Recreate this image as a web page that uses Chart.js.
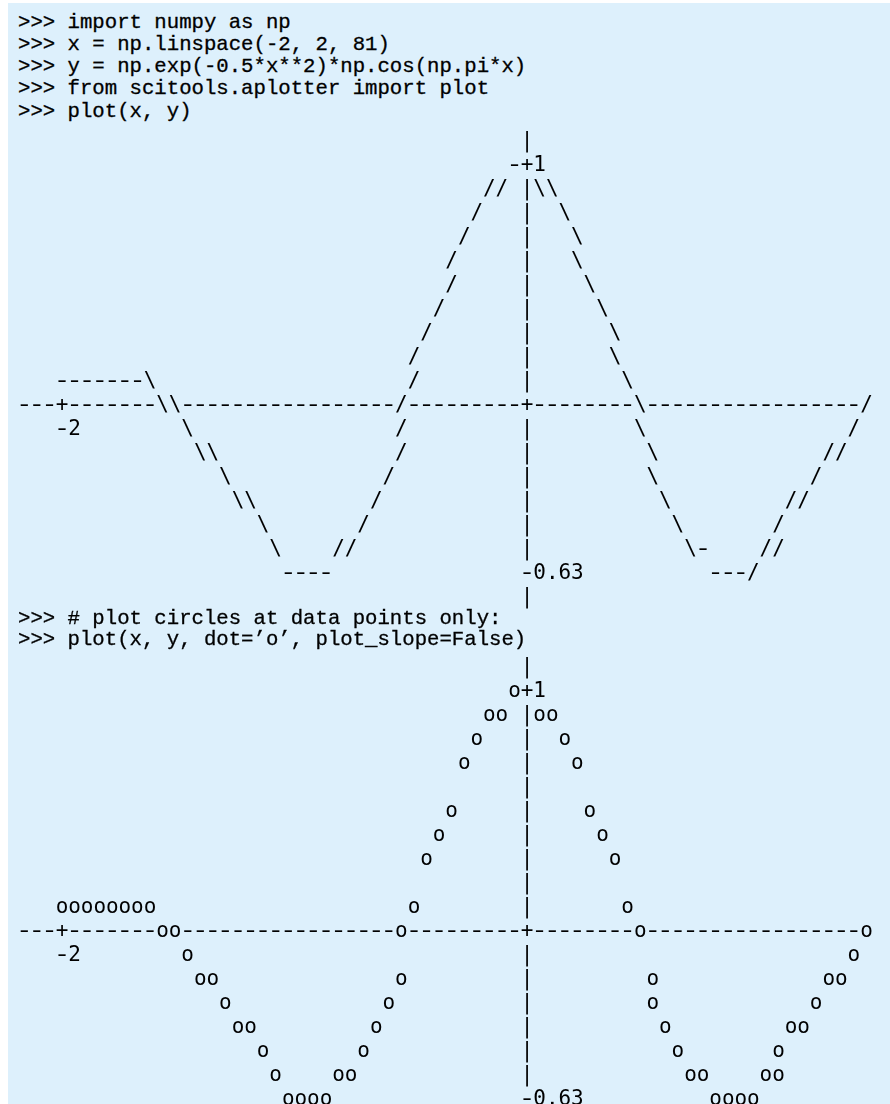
<!DOCTYPE html>
<html>
<head>
<meta charset="utf-8">
<script src="https://cdn.jsdelivr.net/npm/chart.js@4.4.1/dist/chart.umd.min.js"></script>
<style>
html, body { margin: 0; padding: 0; overflow: hidden; background: #fff; }
#page { position: relative; width: 890px; height: 1104px; overflow: hidden; }
#box { position: absolute; left: 8px; top: 3px; right: 0; bottom: 0; background: #ddf0fc; }
.code { position: absolute; left: 18px; margin: 0; font-family: "Liberation Mono", monospace; font-size: 20.67px; line-height: 22.2px; color: #000; white-space: pre; -webkit-text-stroke: 0.3px #000; }
canvas { position: absolute; left: 18px; }
</style>
</head>
<body>
<div id="page">
  <div id="box"></div>
  <pre class="code" style="top:11.7px">&gt;&gt;&gt; import numpy as np
&gt;&gt;&gt; x = np.linspace(-2, 2, 81)
&gt;&gt;&gt; y = np.exp(-0.5*x**2)*np.cos(np.pi*x)
&gt;&gt;&gt; from scitools.aplotter import plot
&gt;&gt;&gt; plot(x, y)</pre>
  <canvas id="slope-plot" width="855" height="480" style="top:129px"></canvas>
  <pre class="code" style="top:608px; line-height:21px">&gt;&gt;&gt; # plot circles at data points only:
&gt;&gt;&gt; plot(x, y, dot=’o’, plot_slope=False)</pre>
  <canvas id="dot-plot" width="855" height="480" style="top:655px"></canvas>
</div>
<script>
// points as they sit in the character grid
const xValues = [-2.00, -1.95, -1.89, -1.84, -1.78, -1.73, -1.68, -1.62, -1.57, -1.51,
  -1.46, -1.41, -1.35, -1.30, -1.24, -1.19, -1.14, -1.08, -1.03, -0.97,
  -0.92, -0.86, -0.81, -0.76, -0.70, -0.65, -0.59, -0.54, -0.54, -0.49,
  -0.43, -0.38, -0.32, -0.27, -0.22, -0.16, -0.11, -0.05, 0.05, 0.11,
  0.16, 0.22, 0.27, 0.32, 0.38, 0.43, 0.49, 0.54, 0.54, 0.59,
  0.65, 0.70, 0.76, 0.81, 0.86, 0.92, 0.97, 1.03, 1.08, 1.08,
  1.14, 1.19, 1.24, 1.30, 1.35, 1.41, 1.46];
const yValues = [0.14, 0.14, 0.14, 0.14, 0.14, 0.14, 0.14, 0.14, 0.04, 0.04,
  -0.05, -0.15, -0.15, -0.25, -0.34, -0.34, -0.44, -0.53, -0.63, -0.63,
  -0.63, -0.63, -0.53, -0.53, -0.44, -0.34, -0.25, -0.15, 0.04, 0.14,
  0.33, 0.42, 0.52, 0.71, 0.81, 0.90, 0.90, 1.00, 0.90, 0.90,
  0.81, 0.71, 0.52, 0.42, 0.33, 0.14, 0.04, -0.15, -0.25, -0.34,
  -0.44, -0.53, -0.53, -0.63, -0.63, -0.63, -0.63, -0.53, -0.53, -0.44,
  -0.34, -0.34, -0.25, -0.15, -0.15, -0.05, 0.04];
// character plot(x, y) picked for each point
const slopeMarks = ['-', '-', '-', '-', '-', '-', '-', '\\', '\\', '\\',
  '\\', '\\', '\\', '\\', '\\', '\\', '\\', '\\', '-', '-',
  '-', '-', '/', '/', '/', '/', '/', '/', '/', '/',
  '/', '/', '/', '/', '/', '/', '/', '-', '\\', '\\',
  '\\', '\\', '\\', '\\', '\\', '\\', '\\', '\\', '\\', '\\',
  '\\', '\\', '-', '-', '-', '-', '/', '/', '/', '/',
  '/', '/', '/', '/', '/', '/', '/'];
const xTickValues = [-2];
const xTickLabels = ['-2'];
const yTickValues = [1, -0.63];
const yTickLabels = ['+1', '-0.63'];

// character grid
const CELL_W = 12.57;
const CELL_H = 24;
const X_PER_COL = 2 / 37;
const X_AT_COL0 = -2 - 3 * X_PER_COL;
const Y_PER_ROW = 1.63 / 17;
const Y_AT_ROW0 = 1 + Y_PER_ROW;
const GLYPH_FONT = '21px "DejaVu Sans Mono"';
const BASELINE_SHIFT = 5.7;
const DASH_STRETCH = 1.35;

const asciiPlugin = {
  id: 'ascii',
  afterDatasetsDraw(chart, args, opts) {
    const area = chart.chartArea;
    const xs = chart.scales.x, ys = chart.scales.y;
    const nCols = Math.floor(area.width / CELL_W);
    const nRows = Math.round(area.height / CELL_H);
    const colOf = px => Math.round((px - area.left) / CELL_W - 0.5);
    const rowOf = py => Math.round((py - area.top) / CELL_H - 0.5);
    const grid = new Map();
    const put = (c, r, ch) => { if (c >= 0 && c < nCols && r >= 0 && r < nRows) grid.set(c + ',' + r, ch); };

    // axes
    const axisCol = colOf(xs.getPixelForValue(0));
    const axisRow = rowOf(ys.getPixelForValue(0));
    for (let c = 0; c < nCols; c++) put(c, axisRow, '-');
    for (let r = 0; r < nRows; r++) put(axisCol, r, '|');
    put(axisCol, axisRow, '+');
    xTickValues.forEach(v => put(colOf(xs.getPixelForValue(v)), axisRow, '+'));

    // data
    const pts = chart.getDatasetMeta(0).data;
    let prev = null;
    pts.forEach((pt, i) => {
      const c = colOf(pt.x), r = rowOf(pt.y);
      if (opts.marks && prev) {
        const dr = r - prev[1];
        if (Math.abs(dr) > 1) {
          const ch = dr < 0 ? '/' : '\\';
          for (let k = 1; k < Math.abs(dr); k++) {
            put(prev[0] + Math.floor(k * (c - prev[0]) / Math.abs(dr)), prev[1] + k * Math.sign(dr), ch);
          }
        }
      }
      put(c, r, opts.marks ? opts.marks[i] : opts.dot);
      prev = [c, r];
    });

    // labels
    xTickValues.forEach((v, i) => {
      const c = colOf(xs.getPixelForValue(v));
      Array.from(xTickLabels[i]).forEach((ch, k) => put(c + k, axisRow + 1, ch));
    });
    yTickValues.forEach((v, i) => {
      const r = rowOf(ys.getPixelForValue(v));
      Array.from(yTickLabels[i]).forEach((ch, k) => put(axisCol + k, r, ch));
    });

    const ctx = chart.ctx;
    ctx.save();
    ctx.font = GLYPH_FONT;
    ctx.fillStyle = '#000';
    ctx.textAlign = 'center';
    ctx.textBaseline = 'alphabetic';
    grid.forEach((ch, key) => {
      const [c, r] = key.split(',').map(Number);
      const cx = area.left + (c + 0.5) * CELL_W;
      const cy = area.top + (r + 0.5) * CELL_H + BASELINE_SHIFT;
      if (ch === '-') {
        // the typeset dashes are longer than the hyphen glyph
        ctx.save();
        ctx.translate(cx, cy);
        ctx.scale(DASH_STRETCH, 1);
        ctx.fillText(ch, 0, 0);
        ctx.restore();
      } else {
        ctx.fillText(ch, cx, cy);
      }
    });
    ctx.restore();
  }
};

function asciiChart(id, ascii) {
  const canvas = document.getElementById(id);
  const xMin = X_AT_COL0 - 0.5 * X_PER_COL;
  const yMax = Y_AT_ROW0 + 0.5 * Y_PER_ROW;
  return new Chart(canvas, {
    type: 'scatter',
    data: {
      datasets: [{
        data: xValues.map((x, i) => ({ x: x, y: yValues[i] })),
        pointRadius: 0,
        pointHoverRadius: 0,
      }]
    },
    options: {
      responsive: false,
      animation: false,
      events: [],
      layout: { padding: 0 },
      scales: {
        x: { type: 'linear', display: false, bounds: 'data', min: xMin, max: xMin + canvas.width / CELL_W * X_PER_COL },
        y: { type: 'linear', display: false, bounds: 'data', min: yMax - canvas.height / CELL_H * Y_PER_ROW, max: yMax },
      },
      plugins: {
        legend: { display: false },
        tooltip: { enabled: false },
        ascii: ascii,
      }
    },
    plugins: [asciiPlugin]
  });
}

// plot(x, y)
const slope_plot = asciiChart('slope-plot', { marks: slopeMarks });
// plot(x, y, dot='o', plot_slope=False)
const dot_plot = asciiChart('dot-plot', { dot: 'o' });
</script>
</body>
</html>
